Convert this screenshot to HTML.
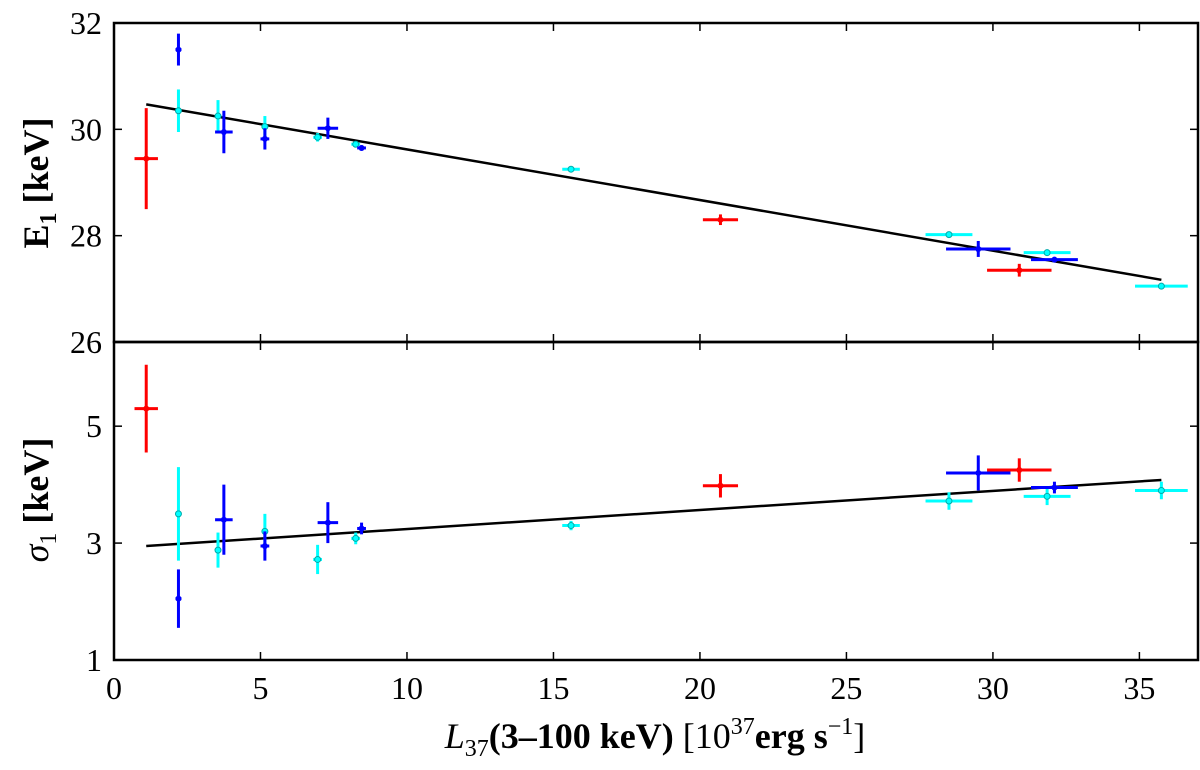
<!DOCTYPE html>
<html><head><meta charset="utf-8"><style>
body{margin:0;background:#fff}
svg text{font-family:"Liberation Serif",serif;fill:#000}
</style></head><body>
<svg id="chart" width="1200" height="765" xmlns="http://www.w3.org/2000/svg"></svg>
<script>
const xTicks=[0,5,10,15,20,25,30,35];
const topTicks=[26,28,30,32];
const botTicks=[1,3,5];
// top panel: E1
const redX=[1.1,20.7,30.9], redXe=[0.4,0.6,1.1];
const redE=[29.45,28.3,27.35], redEe=[0.95,0.1,0.12];
const blueX=[2.2,3.75,5.15,7.3,8.45,29.5,32.1], blueXe=[0.1,0.3,0.15,0.35,0.15,1.1,0.8];
const blueE=[31.5,29.95,29.82,30.02,29.65,27.75,27.55], blueEe=[0.3,0.4,0.2,0.2,0.05,0.15,0.05];
const cyanX=[2.2,3.55,5.15,6.95,8.25,15.6,28.5,31.85,35.75], cyanXe=[0.1,0.1,0.1,0.15,0.15,0.3,0.8,0.8,0.9];
const cyanE=[30.35,30.25,30.05,29.85,29.72,29.25,28.02,27.68,27.05], cyanEe=[0.4,0.3,0.2,0.08,0.05,0.03,0.05,0.05,0.04];
// bottom panel: sigma1
const redS=[5.3,3.98,4.25], redSe=[0.75,0.2,0.2];
const blueS=[2.05,3.4,2.95,3.35,3.25,4.2,3.95], blueSe=[0.5,0.6,0.25,0.35,0.1,0.3,0.1];
const cyanS=[3.5,2.88,3.2,2.72,3.08,3.3,3.72,3.8,3.9], cyanSe=[0.8,0.3,0.3,0.25,0.1,0.08,0.15,0.15,0.15];
const fitX=[1.1,35.75], fitE=[30.47,27.17], fitS=[2.95,4.08];

const svg=document.getElementById('chart'), NS='http://www.w3.org/2000/svg';
const X0=114,X1=1198;
const sx=v=>X0+(v/37)*(X1-X0);
const syT=v=>342-(v-26)/6*(342-23);
const syB=v=>660-(v-1)/(6.44-1)*(660-342);
function el(t,a,name,txt){const e=document.createElementNS(NS,t);for(const k in a)e.setAttribute(k,a[k]);


if(txt!==undefined)e.textContent=txt;svg.appendChild(e);return e;}
function series(xs,xe,ys,ye,sy,col,name){
 xs.forEach((x,i)=>{
  el('line',{x1:sx(x-xe[i]),x2:sx(x+xe[i]),y1:sy(ys[i]),y2:sy(ys[i]),stroke:col,'stroke-width':3},name+'-xerr');
  el('line',{x1:sx(x),x2:sx(x),y1:sy(ys[i]-ye[i]),y2:sy(ys[i]+ye[i]),stroke:col,'stroke-width':3},name+'-yerr');
  el('circle',{cx:sx(x),cy:sy(ys[i]),r:3,fill:col,stroke:col=='#00ffff'?'#0aa':'none'},name+'-point');
 });
}
el('line',{x1:sx(fitX[0]),x2:sx(fitX[1]),y1:syT(fitE[0]),y2:syT(fitE[1]),stroke:'#000','stroke-width':2.5},'fit-line-top');
el('line',{x1:sx(fitX[0]),x2:sx(fitX[1]),y1:syB(fitS[0]),y2:syB(fitS[1]),stroke:'#000','stroke-width':2.5},'fit-line-bottom');
series(cyanX,cyanXe,cyanE,cyanEe,syT,'#00ffff','cyan-e1');
series(blueX,blueXe,blueE,blueEe,syT,'#0000ff','blue-e1');
series(redX,redXe,redE,redEe,syT,'#ff0000','red-e1');
series(cyanX,cyanXe,cyanS,cyanSe,syB,'#00ffff','cyan-sigma');
series(blueX,blueXe,blueS,blueSe,syB,'#0000ff','blue-sigma');
series(redX,redXe,redS,redSe,syB,'#ff0000','red-sigma');
el('rect',{x:X0,y:23,width:X1-X0,height:319,fill:'none',stroke:'#000','stroke-width':2.5},'top-panel-frame');
el('rect',{x:X0,y:342,width:X1-X0,height:318,fill:'none',stroke:'#000','stroke-width':2.5},'bottom-panel-frame');
xTicks.forEach(t=>{const x=sx(t);
 [[23,31],[342,334],[342,350],[660,652]].forEach(p=>el('line',{x1:x,x2:x,y1:p[0],y2:p[1],stroke:'#000','stroke-width':1.5},'x-tick'));
 el('text',{x:x,y:699,'font-size':32,'text-anchor':'middle'},'x-tick-label',String(t));});
topTicks.forEach(t=>{const y=syT(t);
 el('line',{x1:X0,x2:X0+8,y1:y,y2:y,stroke:'#000','stroke-width':1.5},'y-tick');
 el('line',{x1:X1,x2:X1-8,y1:y,y2:y,stroke:'#000','stroke-width':1.5},'y-tick');
 el('text',{x:102,y:y+11,'font-size':32,'text-anchor':'end'},'top-y-tick-label',String(t));});
botTicks.forEach(t=>{const y=syB(t);
 el('line',{x1:X0,x2:X0+8,y1:y,y2:y,stroke:'#000','stroke-width':1.5},'y-tick');
 el('line',{x1:X1,x2:X1-8,y1:y,y2:y,stroke:'#000','stroke-width':1.5},'y-tick');
 el('text',{x:102,y:y+11,'font-size':32,'text-anchor':'end'},'bottom-y-tick-label',String(t));});
const t1=el('text',{x:0,y:0,'font-size':36,'font-weight':'bold',transform:'translate(48,183) rotate(-90)','text-anchor':'middle'},'top-y-axis-title');
t1.innerHTML='E<tspan font-size="24" dy="8">1</tspan><tspan dy="-8"> [keV]</tspan>';
const t2=el('text',{x:0,y:0,'font-size':36,transform:'translate(48,500) rotate(-90)','text-anchor':'middle'},'bottom-y-axis-title');
t2.innerHTML='<tspan font-style="italic">σ</tspan><tspan font-size="24" dy="8">1</tspan><tspan dy="-8" font-weight="bold"> [keV]</tspan>';
const t3=el('text',{x:655,y:748,'font-size':36,'text-anchor':'middle'},'x-axis-title');
t3.innerHTML='<tspan font-style="italic">L</tspan><tspan font-size="24" dy="8">37</tspan><tspan dy="-8" font-weight="bold">(3–100 keV)</tspan> [10<tspan font-size="24" dy="-14">37</tspan><tspan dy="14" font-weight="bold">erg s</tspan><tspan font-size="24" dy="-14">−1</tspan><tspan dy="14">]</tspan>';
</script>
</body></html>
